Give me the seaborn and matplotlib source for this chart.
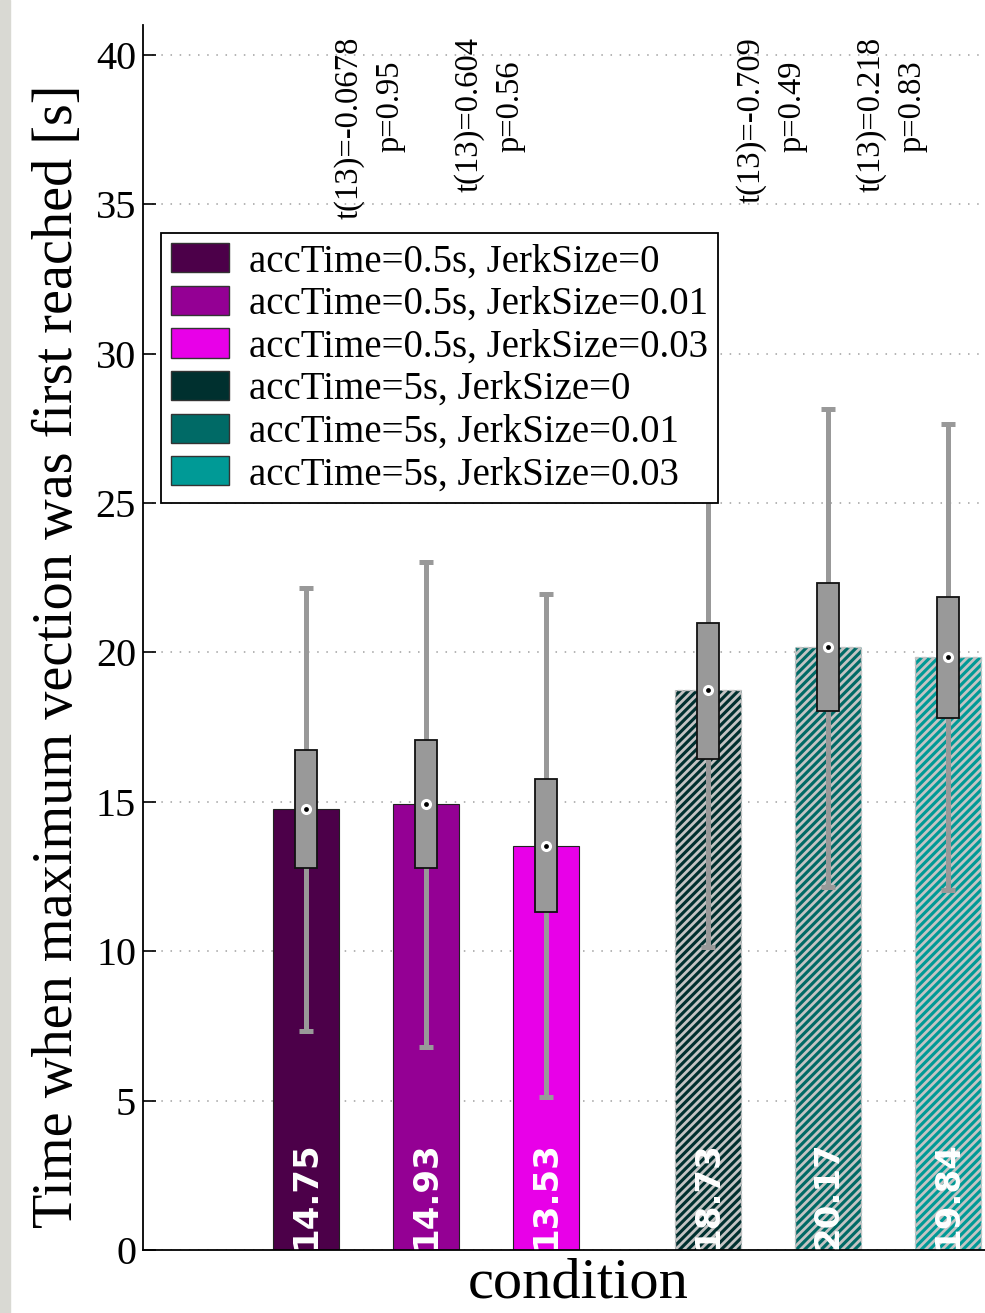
import matplotlib
matplotlib.use("Agg")
import matplotlib.pyplot as plt
import seaborn as sns
import numpy as np
import pandas as pd
from matplotlib.patches import Patch, Rectangle
from matplotlib.font_manager import FontProperties

# ---------------- data ----------------
conditions = [
    "accTime=0.5s, JerkSize=0",
    "accTime=0.5s, JerkSize=0.01",
    "accTime=0.5s, JerkSize=0.03",
    "accTime=5s, JerkSize=0",
    "accTime=5s, JerkSize=0.01",
    "accTime=5s, JerkSize=0.03",
]
acc_group = [0, 0, 0, 1, 1, 1]
means = [14.75, 14.93, 13.53, 18.73, 20.17, 19.84]
box_low = [12.78, 12.78, 11.30, 16.42, 18.03, 17.79]
box_high = [16.72, 17.06, 15.75, 21.00, 22.31, 21.87]
whisker_low = [7.32, 6.79, 5.12, 10.13, 12.14, 12.04]
whisker_high = [22.17, 23.04, 21.94, 27.33, 28.16, 27.63]
colors = ["#4c0049", "#940094", "#e800e8", "#00302f", "#006a66", "#009a96"]
t_labels = ["t(13)=-0.0678", "t(13)=0.604", "t(13)=-0.709", "t(13)=0.218"]
p_labels = ["p=0.95", "p=0.56", "p=0.49", "p=0.83"]
test_pairs = [(0, 1), (1, 2), (3, 4), (4, 5)]
yticks = [0, 5, 10, 15, 20, 25, 30, 35, 40]

# ---------------- layout ----------------
group_gap = 1.35
within = [0, 1, 2, 0, 1, 2]
positions = [1 + w + g * (2 + group_gap) for w, g in zip(within, acc_group)]

sns.set_theme(style="white")
plt.rcParams["font.family"] = ["Liberation Serif", "DejaVu Serif"]
plt.rcParams["hatch.linewidth"] = 2.0
for k in ["text.color", "axes.labelcolor", "xtick.color", "ytick.color"]:
    plt.rcParams[k] = "black"

fig = plt.figure(figsize=(9.85, 13.13), dpi=100)
fig.patch.set_facecolor("white")
ax = fig.add_axes([143 / 985, 1 - 1250 / 1313, 1 - 143 / 985, (1250 - 25) / 1313])

df = pd.DataFrame({"pos": positions, "mean": means, "condition": conditions})
sns.barplot(data=df, x="pos", y="mean", hue="condition", hue_order=conditions,
            palette=colors, native_scale=True, dodge=False, width=0.55,
            errorbar=None, legend=False, saturation=1, ax=ax, zorder=2)

for p in ax.patches:
    cx = p.get_x() + p.get_width() / 2
    i = int(np.argmin([abs(cx - q) for q in positions]))
    p.set_facecolor(colors[i])
    if acc_group[i] == 1:
        p.set_hatch("////")
        p.set_edgecolor("#c4c4c4")
        p.set_linestyle("--")
        p.set_linewidth(1.0)
    else:
        p.set_edgecolor("#222222")
        p.set_linewidth(0.8)

m = np.array(means)
ax.errorbar(positions, means,
            yerr=[m - np.array(whisker_low), np.array(whisker_high) - m],
            fmt="none", ecolor="#999999", elinewidth=3.6, capsize=5, capthick=3.6,
            zorder=3)
ax.bar(positions, np.array(box_high) - np.array(box_low), bottom=box_low,
       width=0.19, color="#999999", edgecolor="#111111", linewidth=1.3, zorder=4)
ax.scatter(positions, means, s=64, color="white", zorder=5, linewidths=0)
ax.scatter(positions, means, s=12, color="black", zorder=6, linewidths=0)

for x, v in zip(positions, means):
    ax.text(x, 0.05, f"{v:.2f}", rotation=90, ha="center", va="bottom",
            color="white", fontsize=24.5, fontweight="bold", family="DejaVu Sans",
            zorder=7)

for (a, b), tl, pl in zip(test_pairs, t_labels, p_labels):
    mid = (positions[a] + positions[b]) / 2
    ax.text(mid - 0.14, 40.6, tl, rotation=90, ha="center", va="top",
            fontsize=23.5, color="black")
    ax.text(mid + 0.20, 39.8, pl, rotation=90, ha="center", va="top",
            fontsize=23.5, color="black")

ax.set_ylim(0, 41)
ax.set_xlim(-0.358, 6.658)
ax.set_yticks(yticks)
ax.set_yticklabels([str(t) for t in yticks])
ax.set_xticks([])
ax.tick_params(axis="y", direction="in", length=9.5, width=1.2, pad=5,
               labelsize=29, left=True, colors="black")
ax.yaxis.grid(True, linestyle=(0, (1, 5)), color="#a0a0a0", linewidth=1.1)
ax.xaxis.grid(False)
ax.set_axisbelow(True)
for s in ["top", "right"]:
    ax.spines[s].set_visible(False)
for s in ["left", "bottom"]:
    ax.spines[s].set_color("black")
    ax.spines[s].set_linewidth(1.3)

ax.set_ylabel("Time when maximum vection was first reached [s]", fontsize=40.5)
ax.yaxis.set_label_coords((84 - 143) / 842, (1250 - 656) / 1225)
ax.set_xlabel("condition", fontsize=42)
ax.xaxis.set_label_coords((578 - 143) / 842, -8 / 1225)
ax.xaxis.label.set_va("top")

handles = [Patch(facecolor=c, edgecolor="#333333", linewidth=1) for c in colors]
leg = ax.legend(handles, conditions, loc="upper left",
                bbox_to_anchor=(18 / 842, (1250 - 233) / 1225),
                frameon=True, fancybox=False, edgecolor="black", framealpha=1,
                prop=FontProperties(family="Liberation Serif", size=28),
                handlelength=1.5, handleheight=0.78, labelspacing=0.14,
                borderpad=0.26, handletextpad=0.5, borderaxespad=0)
leg.get_frame().set_linewidth(1.3)
leg.set_zorder(10)

fig.add_artist(Rectangle((0, 0), 10 / 985, 1, transform=fig.transFigure,
                         color="#d9d9d3", zorder=0))

fig.savefig("out.png", dpi=100, facecolor="white")
